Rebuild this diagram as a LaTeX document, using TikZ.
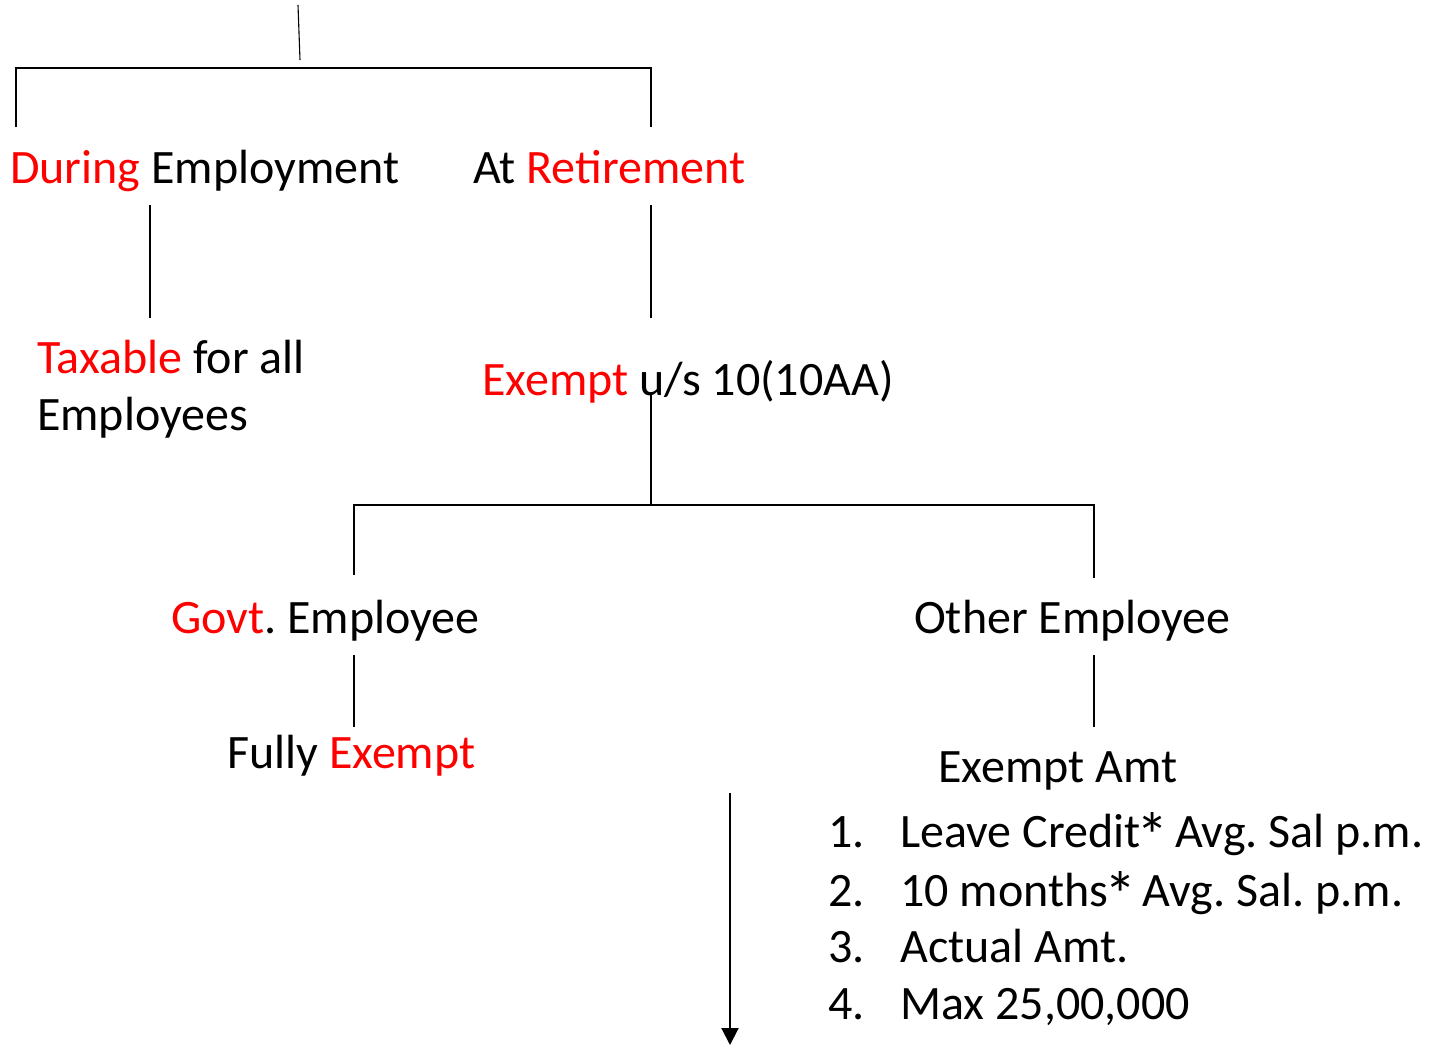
\documentclass[tikz,border=0pt]{standalone}
\usepackage{fontspec}
\usepackage{graphicx}
\setmainfont{Carlito}
\usetikzlibrary{arrows.meta}
\definecolor{hl}{RGB}{255,0,0}
\newcommand\bigast{\makebox[\fontcharwd\font`\*][c]{\raisebox{-0.24em}{\scalebox{1.35}{*}}}}
\frenchspacing
\begin{document}
\begin{tikzpicture}[x=1pt,y=-1pt,
  txt/.style={anchor=base west,inner sep=0pt,font=\fontsize{48}{57}\selectfont},
  conn/.style={line width=1.1pt,black},
  arr/.style={line width=2pt,-{Triangle[length=17pt,width=17pt]}}]
\useasboundingbox (0,0) rectangle (1429,1045);
% texts
\node[txt] (dur) at (10,183) {\textcolor{hl}{During} Employment};
\node[txt] (ret) at (473,183) {At \textcolor{hl}{Retirement}};
\node[txt] (tax) at (37,373) {\textcolor{hl}{Taxable} for all};
\node[txt] (emp) at (37,430) {Employees};
\node[txt] (exm) at (482,395) {\textcolor{hl}{Exempt} u/s 10(10AA)};
\node[txt] (gov) at (171,633) {\textcolor{hl}{Govt}. Employee};
\node[txt] (oth) at (914,633) {Other Employee};
\node[txt] (ful) at (227,768) {Fully \textcolor{hl}{Exempt}};
\node[txt] (amt) at (938,782) {Exempt Amt};
\node[txt] (n1) at (828,847) {1.};
\node[txt] (n2) at (828,906) {2.};
\node[txt] (n3) at (828,962) {3.};
\node[txt] (n4) at (828,1019) {4.};
\node[txt] (l1) at (900,847) {Leave Credit\bigast{} Avg. Sal p.m.};
\node[txt] (l2) at (900,906) {10 months\bigast{} Avg. Sal. p.m.};
\node[txt] (l3) at (900,962) {Actual Amt.};
\node[txt] (l4) at (900,1019) {Max 25,00,000};
% connector coordinates
\coordinate (top0) at (298,5);
\coordinate (top1) at (300,60);
\coordinate (hA) at (16,68);
\coordinate (hB) at (651,68);
\coordinate (dA) at (16,127);
\coordinate (rA) at (651,127);
\coordinate (d1) at (150,205);
\coordinate (d2) at (150,318);
\coordinate (r1) at (651,205);
\coordinate (r2) at (651,318);
\coordinate (e1) at (651,393);
\coordinate (e2) at (651,505);
\coordinate (jL) at (354,505);
\coordinate (jR) at (1094,505);
\coordinate (gA) at (354,575);
\coordinate (oA) at (1094,578);
\coordinate (g1) at (354,655);
\coordinate (g2) at (354,727);
\coordinate (o1) at (1094,655);
\coordinate (o2) at (1094,727);
\coordinate (a1) at (730,793);
\coordinate (a2) at (730,1045);
% connectors
\draw[conn] (top0) -- (top1);
\draw[conn] (dA) -- (hA) -- (hB) -- (rA);
\draw[conn] (d1) -- (d2);
\draw[conn] (r1) -- (r2);
\draw[conn] (e1) -- (e2);
\draw[conn] (gA) -- (jL) -- (jR) -- (oA);
\draw[conn] (g1) -- (g2);
\draw[conn] (o1) -- (o2);
\draw[arr] (a1) -- (a2);
\end{tikzpicture}
\end{document}
